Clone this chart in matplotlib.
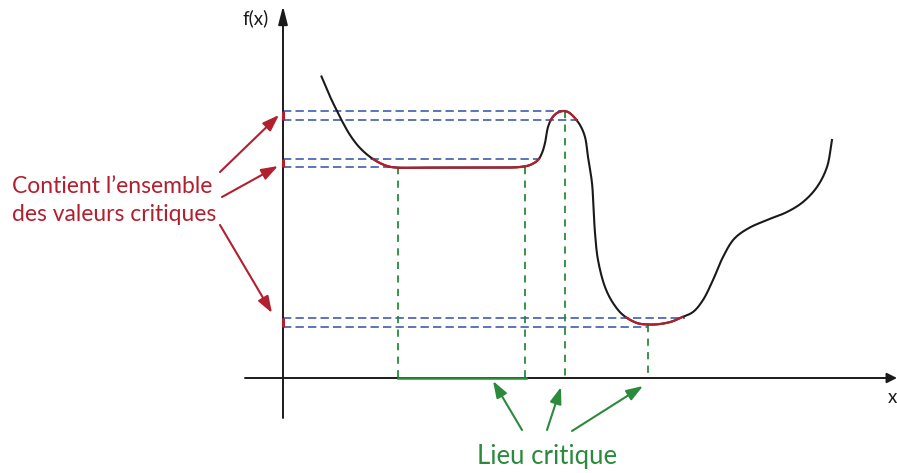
import numpy as np
import matplotlib
matplotlib.use("Agg")
import matplotlib.pyplot as plt

# ---- data (pixel coordinates, y downward) ----
curve_x = [321.5, 330, 336.5, 341.5, 350, 360, 373, 387, 397, 420, 450, 480, 505, 520, 530, 538,
           542, 545, 548, 552, 557, 563, 568, 573, 580, 585, 588, 592, 593.5, 595,
           598, 605, 613, 623, 637, 648, 660, 672, 680, 693, 703, 713, 723, 734,
           748, 767, 787, 803, 817, 827, 832]
curve_y = [76.5, 96.5, 110, 120, 135, 148, 159, 166, 167.6, 167.6, 167.6, 167.6, 167.6, 167, 165, 160,
           153, 143, 127, 118, 113, 111, 112, 116, 125, 137, 157, 183, 207, 233,
           260, 287, 303, 315, 323, 324.5, 324, 321.5, 318, 312, 300, 280, 257, 239,
           228.5, 220, 212, 202, 187, 167, 140]

# critical value bands on f(x) axis
band_top = [111, 159, 318]
band_bot = [120, 167.5, 326.5]
band_top_end = [565, 538, 685]
band_bot_end = [578, 393, 648]
# critical x positions (vertical dashed lines)
crit_x = [398, 525, 565, 648]
crit_y = [167.5, 167.5, 111, 325]
crit_segment = (398, 526)

axis_x0 = 283
axis_y0 = 378

RED = '#b21f2e'
GREEN = '#2b8a3c'
BLUE = '#3e5eae'


def catmull_rom(xs, ys, n=16, alpha=0.5):
    P = np.column_stack([xs, ys]).astype(float)
    P = np.vstack([2 * P[0] - P[1], P, 2 * P[-1] - P[-2]])
    out = []
    for i in range(1, len(P) - 2):
        p0, p1, p2, p3 = P[i - 1], P[i], P[i + 1], P[i + 2]
        t0 = 0.0
        t1 = t0 + np.linalg.norm(p1 - p0) ** alpha
        t2 = t1 + np.linalg.norm(p2 - p1) ** alpha
        t3 = t2 + np.linalg.norm(p3 - p2) ** alpha
        t = np.linspace(t1, t2, n, endpoint=False)[:, None]
        A1 = (t1 - t) / (t1 - t0) * p0 + (t - t0) / (t1 - t0) * p1
        A2 = (t2 - t) / (t2 - t1) * p1 + (t - t1) / (t2 - t1) * p2
        A3 = (t3 - t) / (t3 - t2) * p2 + (t - t2) / (t3 - t2) * p3
        B1 = (t2 - t) / (t2 - t0) * A1 + (t - t0) / (t2 - t0) * A2
        B2 = (t3 - t) / (t3 - t1) * A2 + (t - t1) / (t3 - t1) * A3
        C = (t2 - t) / (t2 - t1) * B1 + (t - t1) / (t2 - t1) * B2
        out.append(C)
    out.append(P[-2][None, :])
    A = np.vstack(out)
    return A[:, 0], A[:, 1]


fig = plt.figure(figsize=(8.97, 4.73), dpi=100)
ax = fig.add_axes([0, 0, 1, 1])
ax.set_xlim(0, 897)
ax.set_ylim(473, 0)
ax.axis('off')

# axes with arrows
ax.annotate('', xy=(axis_x0, 6), xytext=(axis_x0, 418),
            arrowprops=dict(arrowstyle='-|>,head_length=1.1,head_width=0.28', color='#1a1a1a',
                            lw=1.4, shrinkA=0, shrinkB=0, mutation_scale=10))
ax.annotate('', xy=(897, axis_y0), xytext=(245, axis_y0),
            arrowprops=dict(arrowstyle='-|>,head_length=0.6,head_width=0.3', color='#1a1a1a',
                            lw=1.4, shrinkA=0, shrinkB=0, mutation_scale=10))
ax.text(256, 18, 'f(x)', fontsize=13.5, family='Lato', ha='center', va='center', color='#1a1a1a')
ax.text(892, 397, 'x', fontsize=13.5, family='Lato', ha='center', va='center', color='#1a1a1a')

# blue dashed horizontals
for yt, yb, et, eb in zip(band_top, band_bot, band_top_end, band_bot_end):
    ax.plot([axis_x0, et], [yt, yt], color=BLUE, lw=1.2, ls=(0, (5, 2.5)))
    ax.plot([axis_x0, eb], [yb, yb], color=BLUE, lw=1.2, ls=(0, (5, 2.5)))
    ax.plot([axis_x0, axis_x0], [yt, yb], color=RED, lw=2.2, solid_capstyle='butt', zorder=4)

# green dashed verticals
for cx, cy in zip(crit_x, crit_y):
    ax.plot([cx, cx], [cy, axis_y0], color=GREEN, lw=1.3, ls=(0, (4, 3.5)))
ax.plot(crit_segment, [axis_y0, axis_y0], color=GREEN, lw=1.8, zorder=4)

# curve
sx, sy = catmull_rom(curve_x, curve_y)
ax.plot(sx, sy, color='#1a1a1a', lw=1.5, zorder=3)
mask = (((sx > 545) & (sx < 585) & (sy <= 120.5)) |
        ((sx > 370) & (sx < 545) & (sy >= 158.5)) |
        ((sx > 615) & (sx < 690) & (sy >= 317)))
ry = np.where(mask, sy, np.nan)
ax.plot(sx, ry, color=RED, lw=1.6, zorder=4)

# labels and arrows
ax.text(12, 186, 'Contient l\u2019ensemble', fontsize=16.5, family='Lato', color=RED,
        ha='left', va='center')
ax.text(12, 214, 'des valeurs critiques', fontsize=16.5, family='Lato', color=RED,
        ha='left', va='center')
red_arrows = [((220, 172), (279, 115)), ((222, 197), (278, 166)), ((220, 225), (272, 313))]
for (x0, y0), (x1, y1) in red_arrows:
    ax.annotate('', xy=(x1, y1), xytext=(x0, y0),
                arrowprops=dict(arrowstyle='-|>,head_length=1.0,head_width=0.35', color=RED,
                                lw=1.5, shrinkA=0, shrinkB=0, mutation_scale=10))

ax.text(547, 456, 'Lieu critique', fontsize=18.5, family='Lato', color=GREEN,
        ha='center', va='center')
green_arrows = [((522, 430), (493, 381)), ((547, 430), (561, 387)), ((572, 431), (643, 386))]
for (x0, y0), (x1, y1) in green_arrows:
    ax.annotate('', xy=(x1, y1), xytext=(x0, y0),
                arrowprops=dict(arrowstyle='-|>,head_length=1.0,head_width=0.35', color=GREEN,
                                lw=1.5, shrinkA=0, shrinkB=0, mutation_scale=10))

fig.savefig('out.png', dpi=100)
